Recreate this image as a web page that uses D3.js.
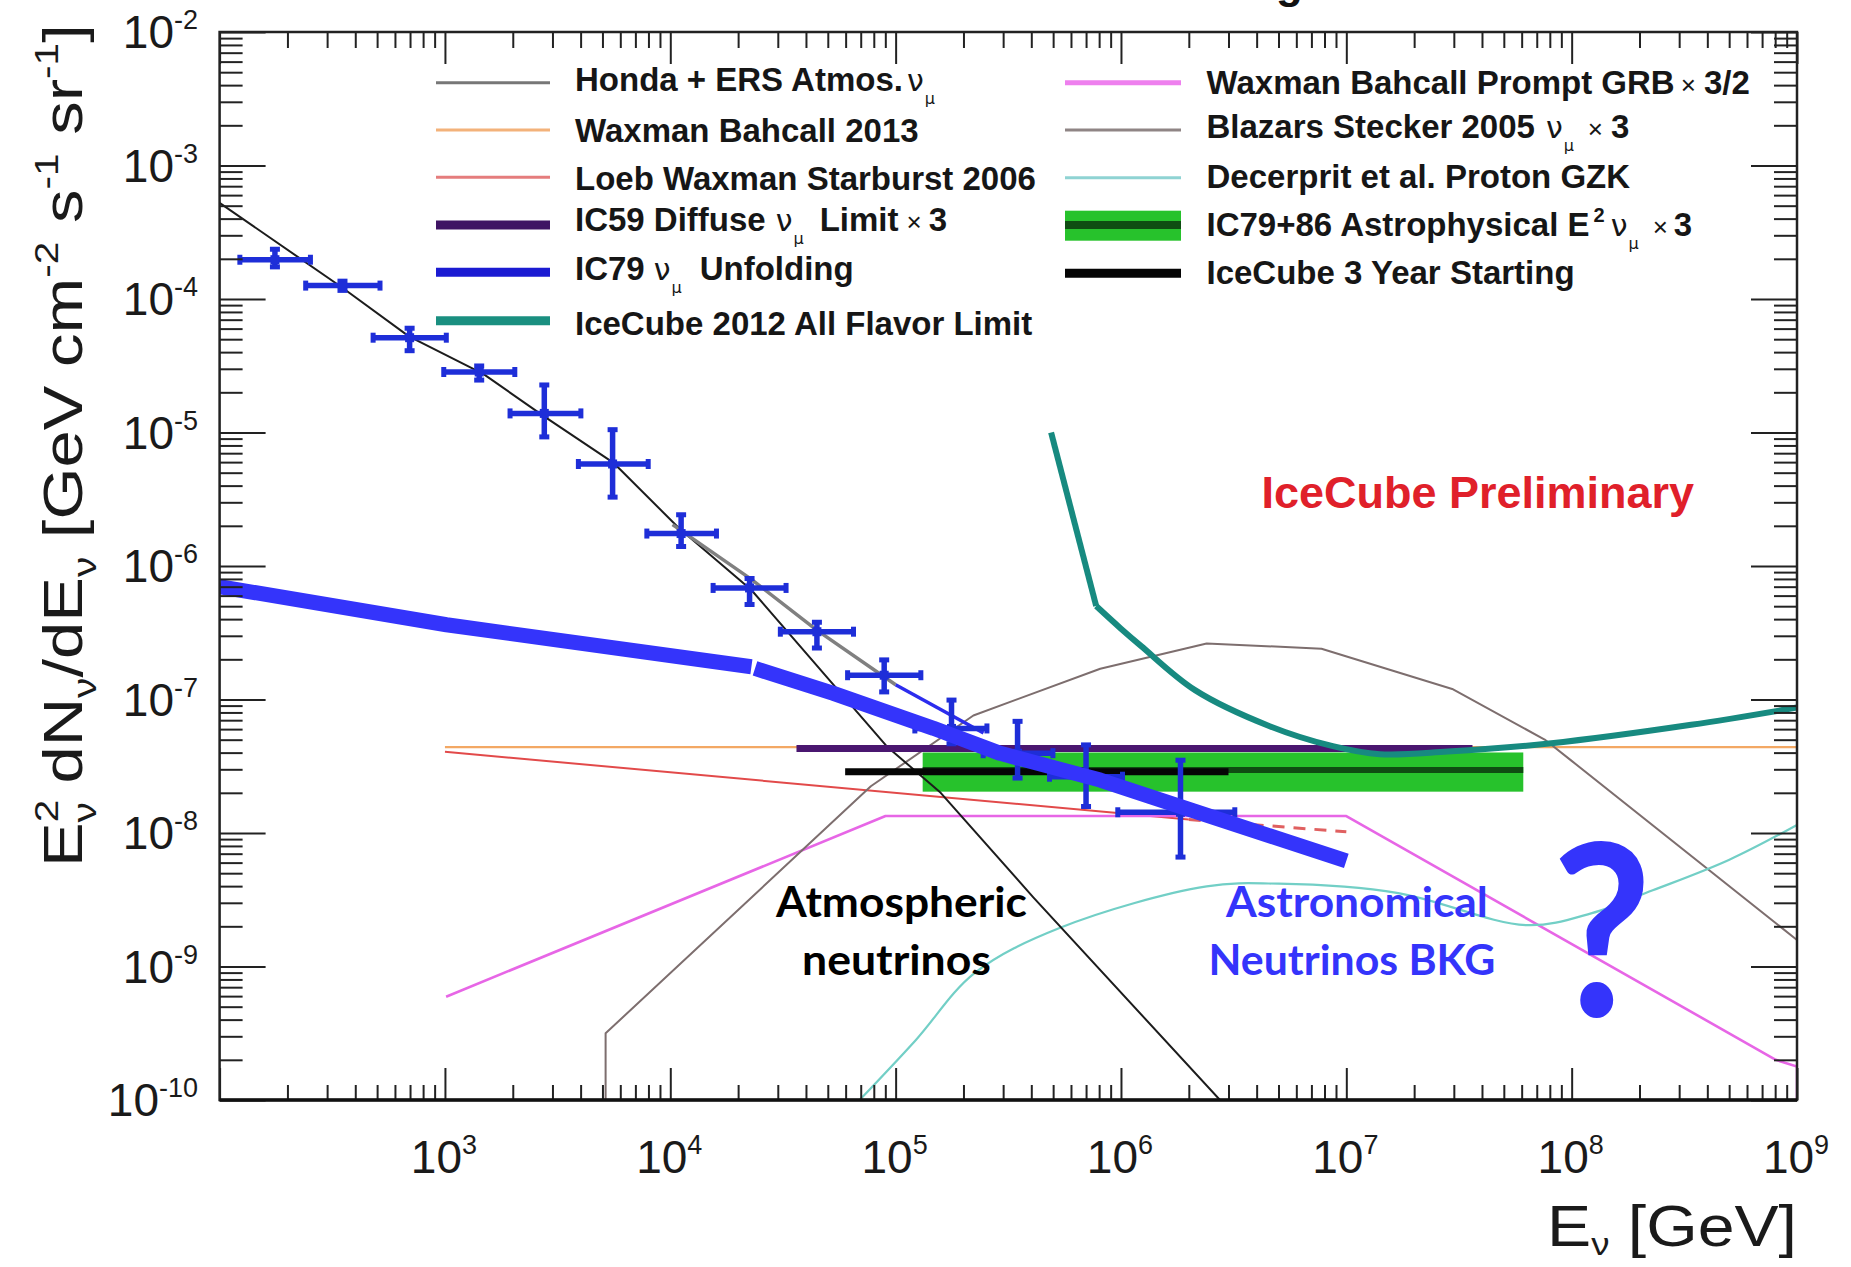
<!DOCTYPE html>
<html><head><meta charset="utf-8">
<script src="https://cdn.jsdelivr.net/npm/d3@7"></script>
<style>html,body{margin:0;padding:0;background:#fff;} svg{display:block}</style>
</head><body>
<svg id="chart" width="1851" height="1267"></svg>
<script>
// ---------------- DATA (E in GeV, flux E^2 dN/dE in GeV cm^-2 s^-1 sr^-1) ----------------
const hondaE = [100, 347, 692, 1479, 2754, 5623, 10965, 22909, 91201, 158489, 407380, 2.75e6];
const hondaF = [5.25e-4, 1.23e-4, 5.25e-5, 2.75e-5, 1.32e-5, 5.89e-6, 1.91e-6, 6.61e-7, 4.47e-8, 2.0e-8, 3.31e-9, 1e-10];
const promptE = [10233, 22909, 44668, 100000];
const promptF = [2.04e-6, 7.94e-7, 3.31e-7, 1.29e-7];
const thinBlueE = [100000, 245471];
const thinBlueF = [1.29e-7, 5.62e-8];
const bkg1E = [100, 1016, 22909];
const bkg1F = [7.0e-7, 3.63e-7, 1.76e-7];
const bkg2E = [23768, 52966, 147231, 291072, 809096, 1.349e6, 1e7];
const bkg2F = [1.71e-7, 1.11e-7, 6.08e-8, 3.95e-8, 2.49e-8, 1.87e-8, 6.17e-9];
const wb2013E = [1e3, 1e9];
const wb2013F = [4.4e-8, 4.4e-8];
const loebE = [1e3, 2e6];
const loebF = [4.06e-8, 1.26e-8];
const loebDashE = [2e6, 1e7];
const loebDashF = [1.26e-8, 1.02e-8];
const grbE = [1012, 90157, 1e7, 8.05e8, 1e9, 1e9];
const grbF = [5.94e-10, 1.34e-8, 1.34e-8, 2.0e-10, 1.78e-10, 1e-10];
const blazarE = [5164, 5164, 77625, 221309, 809096, 2.4e6, 7.76e6, 2.95e7, 7.59e7, 1e8, 1e9];
const blazarF = [1e-10, 3.16e-10, 2.24e-8, 7.59e-8, 1.70e-7, 2.63e-7, 2.40e-7, 1.20e-7, 5.01e-8, 3.47e-8, 1.58e-9];
const gzkE = [69183, 123027, 223872, 537032, 2.4e6, 5.01e6, 1.7e7, 6.31e7, 1.23e8, 2.29e8, 5.01e8, 1e9];
const gzkF = [1e-10, 2.82e-10, 8.91e-10, 1.95e-9, 3.98e-9, 4.17e-9, 3.55e-9, 2.04e-9, 2.51e-9, 3.72e-9, 6.31e-9, 1.15e-8];
const ic2012E = [489779, 776247, 1.0e6, 1.23e6, 2.14e6, 4.57e6, 8.71e6, 1.41e7, 2.82e7, 7.94e7, 3.39e8, 1e9];
const ic2012F = [1e-5, 5.01e-7, 3.39e-7, 2.51e-7, 1.17e-7, 6.31e-8, 4.47e-8, 3.89e-8, 4.07e-8, 4.68e-8, 6.46e-8, 8.71e-8];
const ic59E = [36308, 3.63e7];
const ic59F = [4.3e-8, 4.3e-8];
const astroE = [131826, 6.1e7];
const astroF = [2.04e-8, 2.97e-8, 4.01e-8]; // low, best, high
const start3yE = [59700, 3.0e6];
const start3yF = [2.88e-8, 2.88e-8];
// IC79 unfolding points
const unfE   = [176, 351, 697, 1419, 2760, 5546, 11170, 22480, 44740, 88960, 177000, 347600, 699800, 1837000];
const unfElo = [123, 241, 480, 988, 1945, 3910, 7870, 15490, 30790, 61210, 121700, 244700, 481900, 968000];
const unfEhi = [253, 515, 1014, 2042, 4011, 7980, 16030, 32640, 65030, 129400, 254200, 498900, 1016000, 3200000];
const unfF   = [1.97e-4, 1.26e-4, 5.13e-5, 2.84e-5, 1.39e-5, 5.81e-6, 1.75e-6, 6.85e-7, 3.22e-7, 1.52e-7, 6.07e-8, 3.96e-8, 2.64e-8, 1.43e-8];
const unfFhi = [2.36e-4, 1.36e-4, 6.04e-5, 3.15e-5, 2.27e-5, 1.05e-5, 2.42e-6, 8.06e-7, 3.79e-7, 1.98e-7, 9.9e-8, 6.86e-8, 4.57e-8, 3.51e-8];
const unfFlo = [1.74e-4, 1.16e-4, 4.10e-5, 2.47e-5, 9.27e-6, 3.28e-6, 1.40e-6, 5.15e-7, 2.43e-7, 1.14e-7, 4.66e-8, 2.58e-8, 1.58e-8, 6.6e-9];
// ticks
const xTickExp = [3, 4, 5, 6, 7, 8, 9];
const yTickExp = [-10, -9, -8, -7, -6, -5, -4, -3, -2];
// legend labels
const legendLeft = [
  [["b","Honda + ERS Atmos."],["nu","ν",4],["sub","μ",1]],
  [["b","Waxman Bahcall 2013"]],
  [["b","Loeb Waxman Starburst 2006"]],
  [["b","IC59 Diffuse"],["nu","ν",10],["sub","μ",1],["b","Limit",16],["x","×",8],["b","3",7]],
  [["b","IC79"],["nu","ν",9],["sub","μ",1],["b","Unfolding",18]],
  [["b","IceCube 2012 All Flavor Limit"]]
];
const legendRight = [
  [["b","Waxman Bahcall Prompt GRB"],["x","×",6],["b","3/2",8]],
  [["b","Blazars Stecker 2005"],["nu","ν",11],["sub","μ",1],["x","×",14],["b","3",8]],
  [["b","Decerprit et al. Proton GZK"]],
  [["b","IC79+86 Astrophysical E"],["sup","2",4],["nu","ν",6],["sub","μ",1],["x","×",14],["b","3",6]],
  [["b","IceCube 3 Year Starting"]]
];

// ---------------- LAYOUT ----------------
const W = 1851, H = 1267;
const M = {left: 219.6, right: 1797, top: 32, bottom: 1100};
const x = d3.scaleLog().domain([1e2, 1e9]).range([M.left, M.right]);
const y = d3.scaleLog().domain([1e-10, 1e-2]).range([M.bottom, M.top]);
const svg = d3.select('#chart');
svg.append('rect').attr('width', W).attr('height', H).attr('fill', '#fff');
svg.append('defs').append('clipPath').attr('id', 'clip')
  .append('rect').attr('x', M.left).attr('y', M.top).attr('width', M.right - M.left).attr('height', M.bottom - M.top);
const plot = svg.append('g').attr('clip-path', 'url(#clip)');

const zip = (E, F) => E.map((e, i) => [e, F[i]]);
const lin = d3.line().x(d => x(d[0])).y(d => y(d[1]));
const smooth = d3.line().x(d => x(d[0])).y(d => y(d[1])).curve(d3.curveMonotoneX);
function path(g, E, F, color, w, gen, dash) {
  const p = g.append('path').datum(zip(E, F)).attr('d', gen || lin)
    .attr('fill', 'none').attr('stroke', color).attr('stroke-width', w)
    .attr('stroke-linejoin', 'round');
  if (dash) p.attr('stroke-dasharray', dash);
  return p;
}

// green astrophysical band
plot.append('rect').attr('x', x(astroE[0])).attr('y', y(astroF[2]))
  .attr('width', x(astroE[1]) - x(astroE[0])).attr('height', y(astroF[0]) - y(astroF[2]))
  .attr('fill', '#27c22c');
path(plot, astroE, [astroF[1], astroF[1]], '#0f4d12', 6);

path(plot, wb2013E, wb2013F, '#f3a864', 2.2);
path(plot, loebE, loebF, '#e24a4a', 2);
path(plot, loebDashE, loebDashF, '#e06060', 3, lin, '12,9');
path(plot, grbE, grbF, '#e766e6', 2.6);
path(plot, blazarE, blazarF, '#7d6e6e', 2);
path(plot, gzkE, gzkF, '#72cfc6', 2.2, d3.line().x(d => x(d[0])).y(d => y(d[1])).curve(d3.curveCatmullRom.alpha(0.5)));
path(plot, hondaE, hondaF, '#1c1c1c', 2);
path(plot, promptE, promptF, '#808080', 3.5);
path(plot, thinBlueE, thinBlueF, '#2c2cee', 3.5);
path(plot, ic59E, ic59F, '#4a1670', 7);
path(plot, start3yE, start3yF, '#050505', 7);
path(plot, ic2012E.slice(0, 2), ic2012F.slice(0, 2), '#178a80', 6).attr('stroke-linecap', 'butt');
path(plot, ic2012E.slice(1), ic2012F.slice(1), '#178a80', 6, d3.line().x(d => x(d[0])).y(d => y(d[1])).curve(d3.curveCatmullRom.alpha(0.5)));

// unfolding crosses
const ucol = '#1e2ed8';
const ug = plot.append('g').attr('stroke', ucol).attr('stroke-linecap', 'butt');
unfE.forEach((e, i) => {
  const cx = x(e), cy = y(unfF[i]);
  const x0 = x(unfElo[i]), x1 = x(unfEhi[i]);
  const y0 = y(unfFhi[i]), y1 = y(unfFlo[i]);
  ug.append('line').attr('x1', x0).attr('x2', x1).attr('y1', cy).attr('y2', cy).attr('stroke-width', 5.5);
  ug.append('line').attr('x1', cx).attr('x2', cx).attr('y1', y0).attr('y2', y1).attr('stroke-width', 5.5);
  [x0, x1].forEach(xx => ug.append('line').attr('x1', xx).attr('x2', xx).attr('y1', cy - 5).attr('y2', cy + 5).attr('stroke-width', 5));
  [y0, y1].forEach(yy => ug.append('line').attr('x1', cx - 5).attr('x2', cx + 5).attr('y1', yy).attr('y2', yy).attr('stroke-width', 5));
  ug.append('rect').attr('x', cx - 4.5).attr('y', cy - 4.5).attr('width', 9).attr('height', 9).attr('fill', ucol).attr('stroke', 'none');
});

// thick astronomical background line
path(plot, bkg1E, bkg1F, '#3434fb', 15).attr('stroke-linecap', 'butt');
path(plot, bkg2E, bkg2F, '#3434fb', 15).attr('stroke-linecap', 'butt');

// ---------------- AXES ----------------
const yMajor = yTickExp.map(e => Math.pow(10, e));
const yMinor = []; for (let e = -10; e < -2; e++) for (let k = 2; k < 10; k++) yMinor.push(k * Math.pow(10, e));
const xMajor = [2].concat(xTickExp).map(e => Math.pow(10, e));
const xMinor = []; for (let e = 2; e < 9; e++) for (let k = 2; k < 10; k++) xMinor.push(k * Math.pow(10, e));

function styleAxis(g) {
  g.select('.domain').remove();
  g.selectAll('line').attr('stroke', '#222').attr('stroke-width', 2);
  g.selectAll('text').remove();
}
const ax = svg.append('g');
ax.append('g').attr('transform', `translate(${M.left},0)`).call(d3.axisLeft(y).tickValues(yMajor).tickSizeInner(-46).tickSizeOuter(0)).call(styleAxis);
ax.append('g').attr('transform', `translate(${M.left},0)`).call(d3.axisLeft(y).tickValues(yMinor).tickSizeInner(-23).tickSizeOuter(0)).call(styleAxis);
ax.append('g').attr('transform', `translate(${M.right},0)`).call(d3.axisRight(y).tickValues(yMajor).tickSizeInner(-46).tickSizeOuter(0)).call(styleAxis);
ax.append('g').attr('transform', `translate(${M.right},0)`).call(d3.axisRight(y).tickValues(yMinor).tickSizeInner(-23).tickSizeOuter(0)).call(styleAxis);
ax.append('g').attr('transform', `translate(0,${M.bottom})`).call(d3.axisBottom(x).tickValues(xMajor).tickSizeInner(-32).tickSizeOuter(0)).call(styleAxis);
ax.append('g').attr('transform', `translate(0,${M.bottom})`).call(d3.axisBottom(x).tickValues(xMinor).tickSizeInner(-15).tickSizeOuter(0)).call(styleAxis);
ax.append('g').attr('transform', `translate(0,${M.top})`).call(d3.axisTop(x).tickValues(xMajor).tickSizeInner(-32).tickSizeOuter(0)).call(styleAxis);
ax.append('g').attr('transform', `translate(0,${M.top})`).call(d3.axisTop(x).tickValues(xMinor).tickSizeInner(-16).tickSizeOuter(0)).call(styleAxis);
ax.append('rect').attr('x', M.left).attr('y', M.top).attr('width', M.right - M.left).attr('height', M.bottom - M.top)
  .attr('fill', 'none').attr('stroke', '#222').attr('stroke-width', 2.5);
ax.append('line').attr('x1', M.left).attr('x2', M.right).attr('y1', M.bottom).attr('y2', M.bottom).attr('stroke', '#111').attr('stroke-width', 3.5);

const FONT = "'Liberation Sans', Arial, Helvetica, sans-serif";
function powLabel(g, e, px, py, anchor) {
  const t = g.append('text').attr('x', px).attr('y', py).attr('text-anchor', anchor)
    .attr('font-family', FONT).attr('font-size', 46).attr('fill', '#1a1a1a');
  t.append('tspan').text('10');
  t.append('tspan').attr('dy', -19).attr('font-size', 27).text(String(e));
  return t;
}
yTickExp.forEach(e => powLabel(svg, e, 198, y(Math.pow(10, e)) + 16, 'end'));
xTickExp.forEach(e => powLabel(svg, e, x(Math.pow(10, e)) - 1, 1173, 'middle'));

// fit helper: scale text horizontally to a target width
function fitText(t, target, tx, ty, rot) {
  const w = t.node().getBBox().width;
  const s = target / w;
  t.attr('x', 0).attr('y', 0)
   .attr('transform', `translate(${tx},${ty})` + (rot ? ` rotate(${rot})` : '') + ` scale(${s},1)`);
}

// y axis title
{
  const t = svg.append('text').attr('font-family', FONT).attr('font-size', 56).attr('fill', '#1a1a1a');
  t.append('tspan').text('E');
  t.append('tspan').attr('dy', -24).attr('font-size', 34).text('2');
  t.append('tspan').attr('dx', -19).attr('dy', 38).attr('font-size', 34).text('ν');
  t.append('tspan').attr('dy', -14).text(' dN');
  t.append('tspan').attr('dy', 14).attr('font-size', 34).text('ν');
  t.append('tspan').attr('dy', -14).text('/dE');
  t.append('tspan').attr('dy', 14).attr('font-size', 34).text('ν');
  t.append('tspan').attr('dy', -14).text(' [GeV cm');
  t.append('tspan').attr('dy', -24).attr('font-size', 34).text('-2');
  t.append('tspan').attr('dy', 24).text(' s');
  t.append('tspan').attr('dy', -24).attr('font-size', 34).text('-1');
  t.append('tspan').attr('dy', 24).text(' sr');
  t.append('tspan').attr('dy', -24).attr('font-size', 34).text('-1');
  t.append('tspan').attr('dy', 24).text(']');
  fitText(t, 843, 82, 867, -90);
}
// x axis title
{
  const t = svg.append('text').attr('font-family', FONT).attr('font-size', 58).attr('fill', '#1a1a1a');
  t.append('tspan').text('E');
  t.append('tspan').attr('dy', 9).attr('font-size', 32).text('ν');
  t.append('tspan').attr('dy', -9).text(' [GeV]');
  fitText(t, 250, 1547, 1246);
}

// ---------------- LEGEND ----------------
function legendText(g, segs, px, py) {
  const t = g.append('text').attr('x', px).attr('y', py).attr('font-family', FONT).attr('fill', '#161616');
  let shift = 0;
  segs.forEach(s => {
    const [type, str, dx] = s;
    let target = 0, size = 33, weight = 'bold', fam = FONT;
    if (type === 'nu') { size = 30; weight = 'normal'; fam = "'DejaVu Sans', sans-serif"; }
    if (type === 'sub') { size = 16; weight = 'normal'; target = 13; fam = "'DejaVu Sans', sans-serif"; }
    if (type === 'sup') { size = 20; weight = 'bold'; target = -14; }
    if (type === 'x') { size = 26; weight = 'normal'; }
    const ts = t.append('tspan').attr('font-size', size).attr('font-weight', weight).attr('font-family', fam)
      .attr('dy', target - shift).text(str);
    if (dx) ts.attr('dx', dx);
    shift = target;
  });
  return t;
}
const lg = svg.append('g');
const leftLineY = [82.7, 130, 177.3, 225, 272.3, 320.7];
const leftTextY = [91, 142, 190, 231, 280, 335];
const leftStyles = [['#777', 3], ['#f3b27a', 3], ['#e57d7d', 3], ['#3f1464', 9], ['#1b1bd2', 9], ['#1a8f80', 9]];
legendLeft.forEach((segs, i) => {
  lg.append('line').attr('x1', 436).attr('x2', 550).attr('y1', leftLineY[i]).attr('y2', leftLineY[i])
    .attr('stroke', leftStyles[i][0]).attr('stroke-width', leftStyles[i][1]);
  legendText(lg, segs, 575, leftTextY[i]);
});
const rightLineY = [82.7, 130, 177.7, 225, 273.3];
const rightTextY = [94, 138, 188, 236, 284];
const rightStyles = [['#ee80ee', 5], ['#8f8585', 3], ['#8fd3d3', 3], [null, 0], ['#050505', 9]];
legendRight.forEach((segs, i) => {
  if (i === 3) {
    lg.append('rect').attr('x', 1065).attr('y', 210.7).attr('width', 116).attr('height', 30).attr('fill', '#27c22c');
    lg.append('line').attr('x1', 1065).attr('x2', 1181).attr('y1', 225).attr('y2', 225).attr('stroke', '#0f4d12').attr('stroke-width', 8);
  } else {
    lg.append('line').attr('x1', 1065).attr('x2', 1181).attr('y1', rightLineY[i]).attr('y2', rightLineY[i])
      .attr('stroke', rightStyles[i][0]).attr('stroke-width', rightStyles[i][1]);
  }
  legendText(lg, segs, 1206.5, rightTextY[i]);
});

// ---------------- ANNOTATIONS ----------------
{
  const t = svg.append('text').attr('font-family', FONT).attr('font-weight', 'bold').attr('font-size', 44)
    .attr('fill', '#e0202a').text('IceCube Preliminary');
  fitText(t, 433, 1261.5, 508);
}
const CAL = "Lato, 'Open Sans', sans-serif";
function annot(str, color, size, w, tx, ty) {
  const t = svg.append('text').attr('font-family', CAL).attr('font-weight', 'bold').attr('font-size', size)
    .attr('fill', color).text(str);
  fitText(t, w, tx, ty);
}
annot('Atmospheric', '#000', 42, 252, 776, 917);
annot('neutrinos', '#000', 42, 189, 802, 975);
annot('Astronomical', '#3434fb', 42, 263, 1226, 917);
annot('Neutrinos BKG', '#3434fb', 42, 287, 1208.5, 975);
annot('?', '#3434fb', 240, 100, 1552, 1016);
// clipped title fragment at the very top
svg.append('text').attr('x', 1276).attr('y', -2).attr('font-family', FONT).attr('font-weight', 'bold')
  .attr('font-size', 44).attr('fill', '#111').text('g');
</script>
</body></html>
